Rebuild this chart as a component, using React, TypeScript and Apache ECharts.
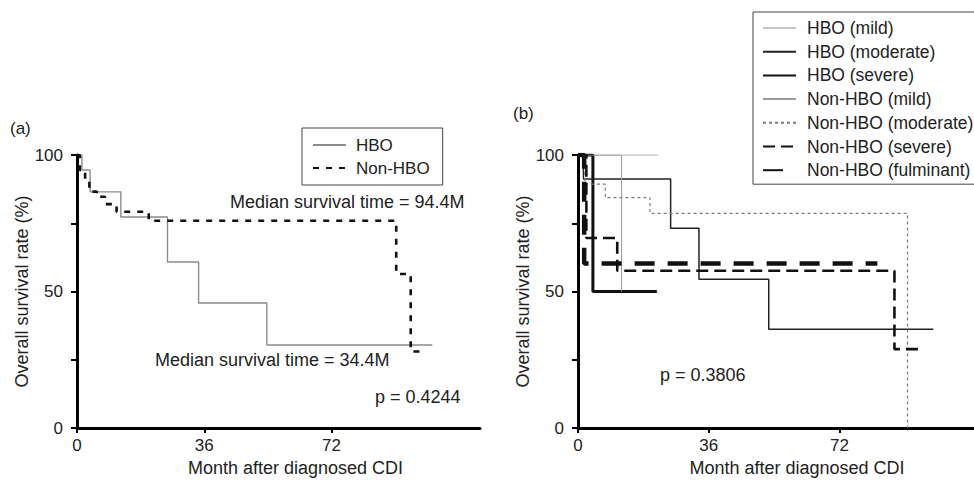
import React, { useEffect, useRef } from "react";
import * as echarts from "echarts";

// ---- data (months, survival %) ----
const xLabelValues = [0, 36, 72];
const yLabelValues = [0, 50, 100];
const yTickValues = [0, 25, 50, 75, 100];

// panel (a)
const hboA = [[0, 100], [1.4, 94.5], [3.7, 86.5], [12.4, 77.3], [25.6, 60.8], [34.4, 45.8], [53.7, 30.4], [100.5, 30.4]];
const nonHboA = [[0, 100], [0.8, 94.5], [2.3, 90.8], [3.5, 86.6], [5.6, 84.7], [7.9, 82.0], [11.2, 79.2], [20.3, 75.9], [90.3, 56.4], [94.4, 28.0], [97.4, 28.0]];

// panel (b)
const hboMild = [[0, 100], [22, 100]];
const hboModerate = [[0, 100], [1.5, 91.2], [25.5, 73.2], [33.3, 54.5], [52.5, 36.2], [97.8, 36.2]];
const hboSevere = [[0, 100], [4.1, 50], [21.7, 50]];
const nonHboMild = [[0, 100], [12, 50]];
const nonHboModerate = [[0, 100], [1.9, 89.3], [7.5, 84.4], [19.8, 78.6], [90.7, 0]];
const nonHboSevere = [[0, 100], [2.3, 69.6], [10.8, 57.6], [87.1, 28.9], [94.4, 28.9]];
const nonHboFulminant = [[0, 100], [1.7, 60.3], [82.4, 60.3]];

const FONT = "'Liberation Sans', Arial, sans-serif";
const TXT = "#222";

function km(name: string, data: number[][], idx: number, color: string, width: number, dash?: number[]) {
  return {
    name,
    type: "line",
    step: "end",
    xAxisIndex: idx,
    yAxisIndex: idx,
    data,
    symbol: "none",
    showSymbol: false,
    lineStyle: { color, width, type: dash ? dash : "solid", cap: "butt" },
    itemStyle: { color },
    z: 3,
  };
}

function xAxis(idx: number, max: number, pad: number) {
  return {
    type: "value",
    gridIndex: idx,
    min: 0,
    max,
    name: "Month after diagnosed CDI",
    nameLocation: "middle",
    nameGap: 31,
    nameTextStyle: { fontSize: 18, color: TXT, fontFamily: FONT, padding: [0, 0, 0, pad] },
    axisLine: { show: true, onZero: false, lineStyle: { color: "#000", width: 3 } },
    axisTick: { show: true, inside: false, length: 5, customValues: xLabelValues, lineStyle: { color: "#000", width: 2 } },
    axisLabel: { show: true, margin: 9, fontSize: 17, color: TXT, fontFamily: FONT, customValues: xLabelValues },
    splitLine: { show: false },
  };
}

function yAxis(idx: number) {
  return {
    type: "value",
    gridIndex: idx,
    min: 0,
    max: 100,
    name: "Overall survival rate (%)",
    nameLocation: "middle",
    nameGap: 40,
    nameTextStyle: { fontSize: 18, color: TXT, fontFamily: FONT },
    axisLine: { show: true, lineStyle: { color: "#000", width: 3 } },
    axisTick: { show: true, inside: false, length: 6, customValues: yTickValues, lineStyle: { color: "#000", width: 2 } },
    axisLabel: { show: true, margin: 14, fontSize: 17, color: TXT, fontFamily: FONT, customValues: yLabelValues },
    splitLine: { show: false },
  };
}

function txt(text: string, x: number, y: number, size = 18) {
  return {
    type: "text",
    x,
    y,
    silent: true,
    style: { text, fontSize: size, fontFamily: FONT, fill: TXT, align: "left", verticalAlign: "middle" },
  };
}

export default function App() {
  const ref = useRef<HTMLDivElement>(null);
  useEffect(() => {
    if (!ref.current) return;
    const chart = echarts.init(ref.current, undefined, { renderer: "svg" });
    const legendText = { fontSize: 17, color: TXT, fontFamily: FONT, lineHeight: 20, padding: [0, 0, 0, 5] };
    const legendTextB = { fontSize: 17.5, color: TXT, fontFamily: FONT, lineHeight: 20, padding: [0, 0, 0, 6] };
    chart.setOption({
      animation: false,
      backgroundColor: "#fff",
      grid: [
        { left: 77, top: 155, width: 403, height: 273, containLabel: false },
        { left: 578, top: 155, width: 396, height: 273, containLabel: false },
      ],
      xAxis: [xAxis(0, 114, 34), xAxis(1, 109, 42)],
      yAxis: [yAxis(0), yAxis(1)],
      legend: [
        {
          data: ["HBO", "Non-HBO"],
          orient: "vertical",
          left: 302,
          top: 128,
          itemWidth: 33,
          itemHeight: 14,
          itemGap: 3,
          padding: [7, 13, 7, 10],
          borderColor: "#444",
          borderWidth: 1,
          backgroundColor: "#fff",
          itemStyle: { opacity: 0 },
          textStyle: legendText,
        },
        {
          data: [
            "HBO (mild)",
            "HBO (moderate)",
            "HBO (severe)",
            "Non-HBO (mild)",
            "Non-HBO (moderate)",
            "Non-HBO (severe)",
            "Non-HBO (fulminant)",
          ],
          orient: "vertical",
          left: 753,
          top: 12,
          itemWidth: 33,
          itemHeight: 14,
          itemGap: 3.7,
          padding: [6, 20, 4, 9],
          borderColor: "#444",
          borderWidth: 1,
          backgroundColor: "#fff",
          itemStyle: { opacity: 0 },
          textStyle: legendTextB,
        },
      ],
      series: [
        km("HBO", hboA, 0, "#8c8c8c", 1.4),
        km("Non-HBO", nonHboA, 0, "#111", 2.6, [6, 7]),
        km("HBO (mild)", hboMild, 1, "#c4c4c4", 1.6),
        km("HBO (moderate)", hboModerate, 1, "#222", 1.5),
        km("HBO (severe)", hboSevere, 1, "#111", 3),
        km("Non-HBO (mild)", nonHboMild, 1, "#9a9a9a", 1),
        km("Non-HBO (moderate)", nonHboModerate, 1, "#7a7a7a", 1.2, [3, 3]),
        km("Non-HBO (severe)", nonHboSevere, 1, "#111", 2.6, [12, 6]),
        km("Non-HBO (fulminant)", nonHboFulminant, 1, "#111", 4.5, [20, 13]),
      ],
      graphic: [
        txt("(a)", 10, 128, 17),
        txt("(b)", 513, 113, 17),
        txt("Median survival time = 94.4M", 230, 202),
        txt("Median survival time = 34.4M", 155, 360),
        txt("p = 0.4244", 375, 397),
        txt("p = 0.3806", 660, 375),
      ],
    });
    return () => chart.dispose();
  }, []);
  return (
    <div
      ref={ref}
      style={{ position: "fixed", left: 0, top: 0, width: 974, height: 482, background: "#fff" }}
    />
  );
}
